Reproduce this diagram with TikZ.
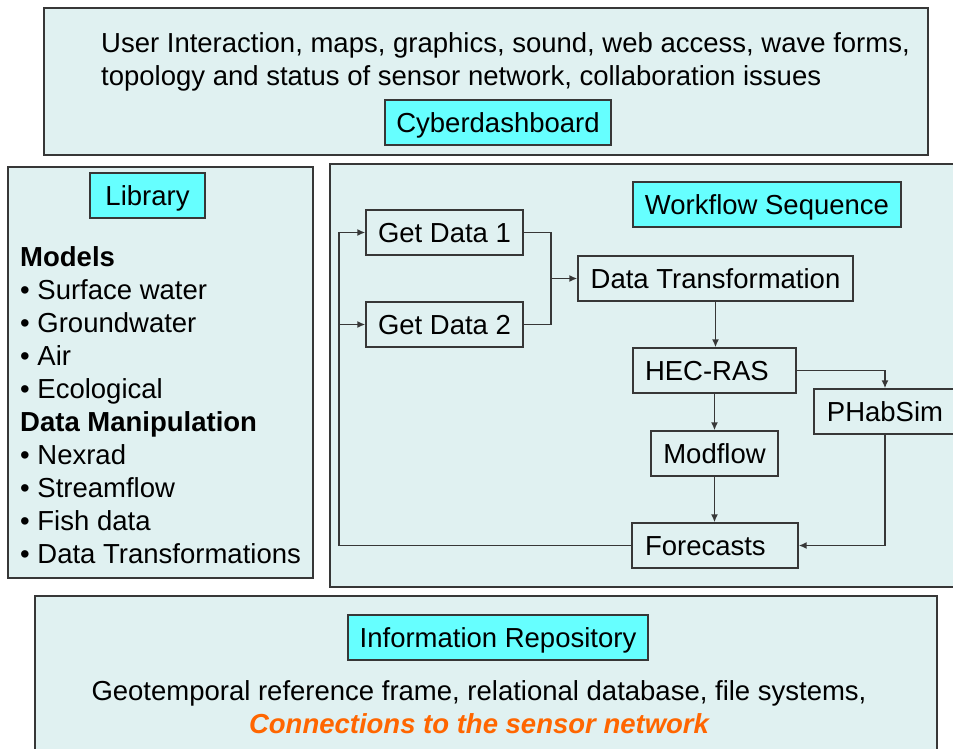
\documentclass[tikz,border=0pt]{standalone}
\usepackage{fontspec}
\setmainfont{Liberation Sans}
\usetikzlibrary{arrows.meta}
\definecolor{panelfill}{RGB}{224,241,241}
\definecolor{labelfill}{RGB}{102,255,255}
\definecolor{edgegray}{RGB}{55,55,55}
\definecolor{accent}{RGB}{255,102,0}
\begin{document}
\begin{tikzpicture}[x=1pt,y=-1pt,
  panel/.style={draw=edgegray, line width=1.8pt, fill=panelfill},
  bigfont/.style={font=\fontsize{27.5}{33}\selectfont},
  tag/.style={draw=edgegray, line width=1.3pt, fill=labelfill, inner sep=0pt, minimum height=45pt, text height=20pt, text depth=1pt, bigfont},
  stepbox/.style={draw=edgegray, line width=1.3pt, inner sep=0pt, minimum height=45pt, text height=20pt, text depth=1pt, bigfont},
  txt/.style={inner sep=0pt, bigfont},
  conn/.style={draw=edgegray, line width=1.6pt},
  arr/.style={conn, -{Latex[length=8pt,width=7pt]}}]
\useasboundingbox (0,0) rectangle (953,749);
\fill[white] (0,0) rectangle (953,749);

% panels
\draw[panel] (44,8) rectangle (928,155);
\draw[panel] (8,167) rectangle (313,578);
\draw[panel] (330,164) rectangle (962,587);
\draw[panel] (35,596) rectangle (937,762);

% top panel
\node[tag, minimum width=226pt] (cyber) at (498,122.5) {Cyberdashboard};
\node[txt, anchor=base west] (ui1) at (101,53) {User Interaction, maps, graphics, sound, web access, wave forms,};
\node[txt, anchor=base west] (ui2) at (101,86) {topology and status of sensor network, collaboration issues};

% library panel
\node[tag, minimum width=115pt] (lib) at (147.5,195.5) {Library};
\node[txt, anchor=base west] (l1) at (20,266) {\bfseries Models};
\node[txt, anchor=base west] (l2) at (20,299) {• Surface water};
\node[txt, anchor=base west] (l3) at (20,332) {• Groundwater};
\node[txt, anchor=base west] (l4) at (20,365) {• Air};
\node[txt, anchor=base west] (l5) at (20,398) {• Ecological};
\node[txt, anchor=base west] (l6) at (20,431) {\bfseries Data Manipulation};
\node[txt, anchor=base west] (l7) at (20,464) {• Nexrad};
\node[txt, anchor=base west] (l8) at (20,497) {• Streamflow};
\node[txt, anchor=base west] (l9) at (20,530) {• Fish data};
\node[txt, anchor=base west] (l10) at (20,563) {• Data Transformations};

% workflow panel
\node[tag, minimum width=268pt] (wfs) at (767,204.5) {Workflow Sequence};
\node[stepbox, minimum width=157pt] (gd1) at (444.5,232.5) {Get Data 1};
\node[stepbox, minimum width=157pt] (gd2) at (444.5,324.5) {Get Data 2};
\node[stepbox, minimum width=275pt] (dt) at (715.5,278.5) {Data Transformation};
\node[stepbox, text width=139pt, align=left, inner xsep=12pt] (hec) at (714.5,370.5) {HEC-RAS};
\node[stepbox, minimum width=127pt] (mod) at (714.5,453.5) {Modflow};
\node[stepbox, minimum width=142pt] (ph) at (885,411.5) {PHabSim};
\node[stepbox, text width=140pt, align=left, inner xsep=13pt] (fc) at (715,545.5) {Forecasts};

\coordinate (jn) at (551,278.5);
\coordinate (lx) at (339,0);
\draw[conn] (gd1.east) -| (jn);
\draw[conn] (gd2.east) -| (jn);
\draw[arr] (jn) -- (dt.west);
\draw[arr] (dt.south) -- (dt.south |- hec.north);
\draw[arr] (hec.south) -- (hec.south |- mod.north);
\draw[arr] (mod.south) -- (mod.south |- fc.north);
\draw[arr] (hec.east) -| (ph.north);
\draw[arr] (ph.south) |- (fc.east);
\draw[conn] (fc.west) -- (fc.west -| lx);
\draw[arr] (fc.west -| lx) |- (gd1.west);
\draw[arr] (lx |- gd2.west) -- (gd2.west);

% bottom panel
\node[tag, minimum width=300pt] (repo) at (498,637.5) {Information Repository};
\node[txt, anchor=base] (geo) at (479,700) {Geotemporal reference frame, relational database, file systems,};
\node[txt, anchor=base, text=accent, font=\fontsize{27.5}{33}\selectfont\bfseries\itshape] (sens) at (479,733) {Connections to the sensor network};
\end{tikzpicture}
\end{document}
